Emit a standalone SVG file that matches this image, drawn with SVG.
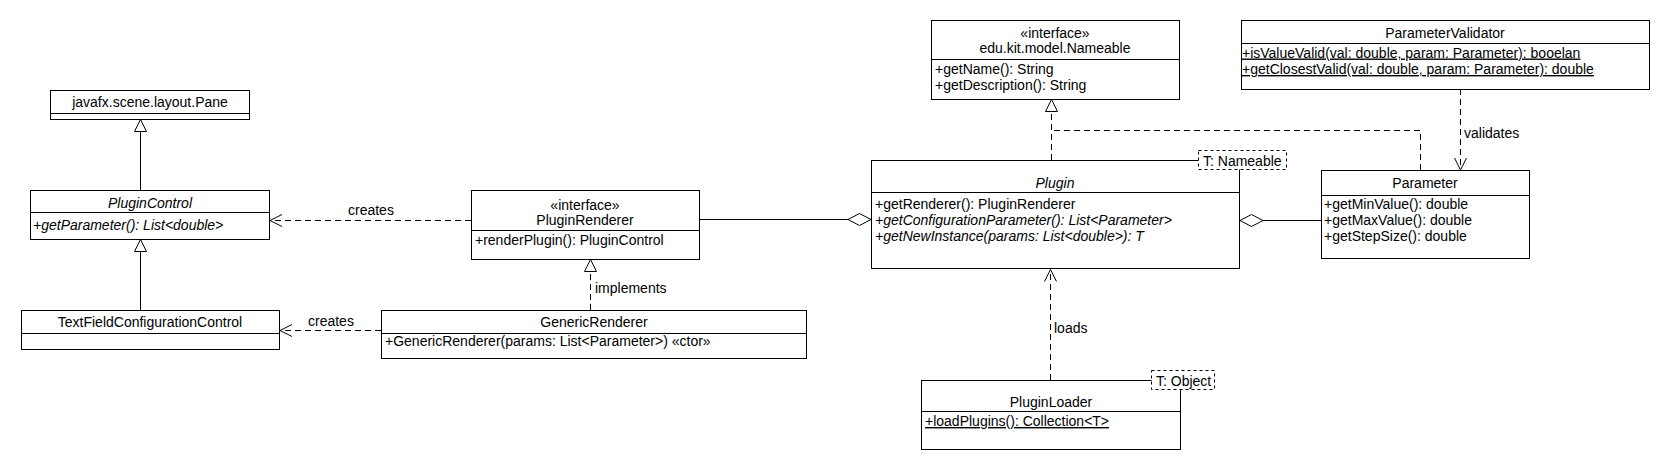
<svg xmlns="http://www.w3.org/2000/svg" width="1670" height="470" viewBox="0 0 1670 470">
<style>
text{font-family:"Liberation Sans",Arial,sans-serif;font-size:14px;fill:#000}
.c{text-anchor:middle}
.i{font-style:italic}
.u{text-decoration:underline}
.box{fill:#fff;stroke:#000;stroke-width:1}
.ln{fill:none;stroke:#000;stroke-width:1}
.dash{fill:none;stroke:#000;stroke-width:1;stroke-dasharray:6,4}
.tdash{fill:#fff;stroke:#000;stroke-width:1;stroke-dasharray:3,3}
.tri{fill:#fff;stroke:#000;stroke-width:1}
</style>
<rect width="1670" height="470" fill="#fff"/>

<g id="connectors">
  <!-- PluginControl -> Pane -->
  <line class="ln" x1="140.5" y1="190" x2="140.5" y2="131.5"/>
  <polygon class="tri" points="140.5,119.5 134.5,131.5 146.5,131.5"/>
  <!-- TFCC -> PluginControl -->
  <line class="ln" x1="140.5" y1="310" x2="140.5" y2="251.5"/>
  <polygon class="tri" points="140.5,239.5 134.5,251.5 146.5,251.5"/>
  <!-- creates PluginRenderer -> PluginControl -->
  <line class="dash" x1="471" y1="220.5" x2="271" y2="220.5"/>
  <polyline class="ln" points="282,214.5 270,220.5 282,226.5"/>
  <text x="348" y="215">creates</text>
  <!-- creates GenericRenderer -> TFCC -->
  <line class="dash" x1="381" y1="330.5" x2="281" y2="330.5"/>
  <polyline class="ln" points="292,324.5 280,330.5 292,336.5"/>
  <text x="308" y="326">creates</text>
  <!-- implements -->
  <line class="dash" x1="590.5" y1="310" x2="590.5" y2="271.5"/>
  <polygon class="tri" points="590.5,259.5 584.5,271.5 596.5,271.5"/>
  <text x="595" y="293">implements</text>
  <!-- PluginRenderer - Plugin aggregation -->
  <line class="ln" x1="699" y1="219.5" x2="848" y2="219.5"/>
  <polygon class="tri" points="871,219.5 859.5,213.5 848,219.5 859.5,225.5"/>
  <!-- Plugin - Parameter aggregation -->
  <line class="ln" x1="1263" y1="220.5" x2="1321" y2="220.5"/>
  <polygon class="tri" points="1240,220.5 1251.5,214.5 1263,220.5 1251.5,226.5"/>
  <!-- Plugin / Parameter realize Nameable -->
  <line class="dash" x1="1051.5" y1="160" x2="1051.5" y2="111.5"/>
  <polyline class="dash" points="1420.5,170 1420.5,130.5 1051.5,130.5"/>
  <polygon class="tri" points="1051.5,99.5 1045.5,111.5 1057.5,111.5"/>
  <!-- validates -->
  <line class="dash" x1="1460.5" y1="89" x2="1460.5" y2="169"/>
  <polyline class="ln" points="1454.5,158 1460.5,170 1466.5,158"/>
  <text x="1464" y="137.5">validates</text>
  <!-- loads -->
  <line class="dash" x1="1050.5" y1="380" x2="1050.5" y2="270"/>
  <polyline class="ln" points="1044.5,281.5 1050.5,269.5 1056.5,281.5"/>
  <text x="1054" y="332.5">loads</text>
</g>

<g id="Pane">
  <rect class="box" x="50.5" y="90.5" width="199" height="29"/>
  <line class="ln" x1="50.5" y1="113.5" x2="249.5" y2="113.5"/>
  <text class="c" x="150" y="107">javafx.scene.layout.Pane</text>
</g>

<g id="PluginControl">
  <rect class="box" x="30.5" y="190.5" width="239" height="49"/>
  <line class="ln" x1="30.5" y1="212.5" x2="269.5" y2="212.5"/>
  <text class="c i" x="150" y="207.5">PluginControl</text>
  <text class="i" x="33" y="230">+getParameter(): List&lt;double&gt;</text>
</g>

<g id="TextFieldConfigurationControl">
  <rect class="box" x="21.5" y="310.5" width="258" height="39"/>
  <line class="ln" x1="21.5" y1="333.5" x2="279.5" y2="333.5"/>
  <text class="c" x="150" y="327">TextFieldConfigurationControl</text>
</g>

<g id="PluginRenderer">
  <rect class="box" x="471.5" y="190.5" width="228" height="69"/>
  <line class="ln" x1="471.5" y1="230.5" x2="699.5" y2="230.5"/>
  <text class="c" x="585" y="210">«interface»</text>
  <text class="c" x="585" y="224.5">PluginRenderer</text>
  <text x="475" y="244.5">+renderPlugin(): PluginControl</text>
</g>

<g id="GenericRenderer">
  <rect class="box" x="381.5" y="310.5" width="425" height="48"/>
  <line class="ln" x1="381.5" y1="333.5" x2="806.5" y2="333.5"/>
  <text class="c" x="594" y="326.5">GenericRenderer</text>
  <text x="385" y="346">+GenericRenderer(params: List&lt;Parameter&gt;) «ctor»</text>
</g>

<g id="Nameable">
  <rect class="box" x="931.5" y="20.5" width="248" height="79"/>
  <line class="ln" x1="931.5" y1="59.5" x2="1179.5" y2="59.5"/>
  <text class="c" x="1055" y="37.5">«interface»</text>
  <text class="c" x="1055" y="52.5">edu.kit.model.Nameable</text>
  <text x="935" y="74">+getName(): String</text>
  <text x="935" y="90">+getDescription(): String</text>
</g>

<g id="Plugin">
  <rect class="box" x="871.5" y="160.5" width="368" height="108"/>
  <line class="ln" x1="871.5" y1="192.5" x2="1239.5" y2="192.5"/>
  <text class="c i" x="1055" y="187.5">Plugin</text>
  <text x="875" y="208.5">+getRenderer(): PluginRenderer</text>
  <text class="i" x="875" y="224.5">+getConfigurationParameter(): List&lt;Parameter&gt;</text>
  <text class="i" x="875" y="240.5">+getNewInstance(params: List&lt;double&gt;): T</text>
  <rect class="tdash" x="1198.5" y="150.5" width="88" height="19"/>
  <text x="1203" y="165.5">T: Nameable</text>
</g>

<g id="ParameterValidator">
  <rect class="box" x="1241.5" y="20.5" width="408" height="69"/>
  <line class="ln" x1="1241.5" y1="43.5" x2="1649.5" y2="43.5"/>
  <text class="c" x="1445" y="37.5">ParameterValidator</text>
  <text class="u" x="1242" y="57.5">+isValueValid(val: double, param: Parameter): booelan</text>
  <text class="u" x="1242" y="74">+getClosestValid(val: double, param: Parameter): double</text>
</g>

<g id="Parameter">
  <rect class="box" x="1321.5" y="170.5" width="208" height="88"/>
  <line class="ln" x1="1321.5" y1="195.5" x2="1529.5" y2="195.5"/>
  <text class="c" x="1425" y="187.5">Parameter</text>
  <text x="1324" y="208.5">+getMinValue(): double</text>
  <text x="1324" y="224.5">+getMaxValue(): double</text>
  <text x="1324" y="240.5">+getStepSize(): double</text>
</g>

<g id="PluginLoader">
  <rect class="box" x="921.5" y="380.5" width="259" height="69"/>
  <line class="ln" x1="921.5" y1="411.5" x2="1180.5" y2="411.5"/>
  <text class="c" x="1051" y="406.5">PluginLoader</text>
  <text class="u" x="925" y="426">+loadPlugins(): Collection&lt;T&gt;</text>
  <rect class="tdash" x="1151.5" y="370.5" width="63" height="19"/>
  <text x="1156" y="385.5">T: Object</text>
</g>
</svg>
